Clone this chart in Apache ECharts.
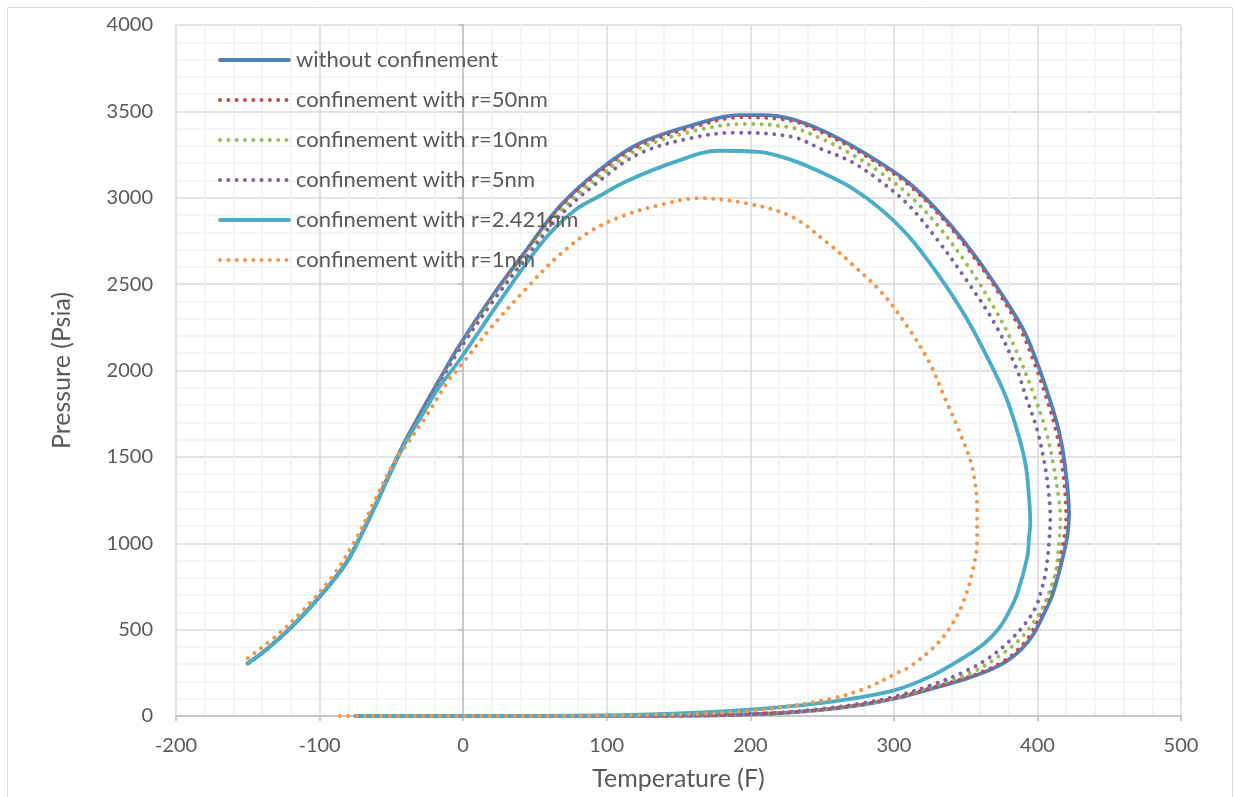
<!DOCTYPE html>
<html>
<head>
<meta charset="utf-8">
<script src="https://cdn.jsdelivr.net/npm/echarts@6/dist/echarts.min.js"></script>
<style>
  html, body { margin: 0; padding: 0; background: #fff; }
  #chart { width: 1235px; height: 797px; }
</style>
</head>
<body>
<div id="chart"></div>
<script>
// series names
const seriesNames = [
  'without confinement',
  'confinement with r=50nm',
  'confinement with r=10nm',
  'confinement with r=5nm',
  'confinement with r=2.421nm',
  'confinement with r=1nm'
];

// [Temperature (F), Pressure (Psia)], bubble branch then dew branch
const withoutConf = [
  [-150,305],[-140,365],[-130,435],[-120,512],[-110,597],[-100,690],[-90,790],[-80,905],[-70,1065],[-60,1240],
  [-50,1425],[-40,1598],[-28,1780],[-17,1940],[-3,2140],[20,2427],[44,2697],[67,2948],[95,3161],[123,3315],
  [160,3421],[192,3478],[210,3478],[229,3455],[250,3390],[270,3305],[290,3205],[310,3090],[330,2930],[350,2735],
  [370,2505],[390,2240],[400,2040],[408,1848],[415,1650],[419,1460],[422,1170],[421,1050],[418,930],[414,800],
  [410,691],[405,600],[397,470],[388,380],[378,315],[365,260],[350,215],[327,160],[304,107],[280,68],
  [246,33],[211,13],[164,3],[100,1],[0,0],[-75,0]
];
const conf50 = [
  [-150,305],[-140,365],[-130,435],[-120,512],[-110,597],[-100,690],[-90,790],[-80,905],[-70,1065],[-60,1240],
  [-50,1425],[-40,1596],[-28,1776],[-17,1934],[-3,2133],[20,2418],[44,2686],[67,2935],[95,3148],[123,3302],
  [160,3408],[194,3466],[229,3445],[250,3378],[270,3293],[290,3193],[310,3077],[330,2916],[350,2720],[370,2488],
  [388,2240],[398,2040],[406,1848],[413,1650],[417,1460],[420,1165],[419,1050],[416,930],[412,800],[408,691],
  [403,600],[395,470],[386,380],[376,315],[363,260],[348,215],[325,160],[302,107],[278,68],[245,33],
  [210,13],[164,3],[100,1],[0,0],[-75,0]
];
const conf10 = [
  [-150,305],[-140,365],[-130,435],[-120,512],[-110,597],[-100,690],[-90,790],[-80,905],[-70,1065],[-60,1240],
  [-50,1424],[-40,1594],[-28,1772],[-17,1928],[-3,2125],[20,2405],[44,2670],[67,2915],[95,3125],[123,3284],
  [160,3385],[195,3427],[229,3405],[250,3340],[270,3255],[290,3150],[310,3020],[330,2845],[350,2625],[370,2360],
  [385,2120],[398,1848],[406,1650],[411,1460],[415,1250],[416,1154],[415,1000],[413,845],[409,735],[404,633],
  [396,525],[386,430],[373,345],[355,255],[327,175],[304,113],[280,70],[246,35],[211,14],[164,3],
  [100,1],[0,0],[-75,0]
];
const conf5 = [
  [-150,305],[-140,365],[-130,435],[-120,512],[-110,597],[-100,690],[-90,790],[-80,905],[-70,1065],[-60,1240],
  [-50,1422],[-40,1591],[-28,1767],[-17,1922],[-3,2115],[20,2392],[44,2652],[67,2893],[95,3098],[123,3257],
  [160,3348],[189,3377],[229,3353],[250,3280],[270,3210],[290,3100],[310,2960],[330,2760],[350,2530],[370,2275],
  [385,2020],[392,1848],[400,1650],[405,1460],[408,1280],[409,1154],[408,1000],[406,845],[403,735],[399,633],
  [391,530],[380,430],[366,335],[350,260],[327,182],[304,120],[280,76],[246,38],[211,15],[164,4],
  [100,1],[0,0],[-75,0]
];
const conf2421 = [
  [-150,305],[-140,365],[-130,435],[-120,512],[-110,597],[-100,690],[-90,790],[-80,905],[-70,1063],[-60,1236],
  [-50,1418],[-40,1585],[-28,1750],[-17,1900],[-3,2055],[20,2335],[44,2620],[60,2790],[78,2929],[95,3010],
  [113,3093],[148,3209],[178,3272],[206,3265],[229,3218],[250,3145],[270,3060],[290,2940],[310,2780],[330,2565],
  [350,2311],[366,2061],[378,1848],[387,1620],[392,1443],[394,1280],[395,1125],[394,1020],[393,922],[386,710],
  [380,600],[373,505],[363,420],[350,345],[327,235],[300,148],[257,83],[211,44],[164,19],[118,6],
  [50,1],[-74,0]
];
const conf1 = [
  [-150,335],[-130,465],[-110,625],[-90,820],[-75,1020],[-62,1240],[-48,1470],[-40,1565],[-26,1733],[-10,1945],
  [-3,2015],[20,2254],[44,2475],[67,2669],[90,2813],[113,2900],[137,2958],[164,2997],[197,2968],[229,2890],
  [257,2717],[269,2630],[292,2447],[311,2235],[325,2042],[335,1850],[346,1640],[355,1424],[358,1173],[358,1019],
  [355,845],[348,652],[338,498],[327,392],[311,285],[304,256],[280,160],[257,102],[222,50],[199,29],
  [164,12],[130,6],[95,2],[0,0],[-86,0]
];

const seriesData = [withoutConf, conf50, conf10, conf5, conf2421, conf1];
const seriesColors = ['#4F81BD', '#C0504D', '#9BBB59', '#8064A2', '#4BACC6', '#F79646'];
const seriesDotted = [false, true, true, true, false, true];

const textColor = '#595959';
const fontFam = 'Lato, "Open Sans", sans-serif';

let chart = echarts.init(document.getElementById('chart'), null, { renderer: 'canvas' });

let series = seriesData.map((d, i) => ({
  name: seriesNames[i],
  type: 'line',
  data: d,
  symbol: 'none',
  smooth: 0.35,
  lineStyle: seriesDotted[i]
    ? { color: seriesColors[i], width: 4, type: [0.01, 8.3], cap: 'round' }
    : { color: seriesColors[i], width: 3.8, cap: 'round', join: 'round' },
  itemStyle: { color: seriesColors[i] },
  emphasis: { disabled: true }
}));

let option = {
  animation: false,
  backgroundColor: '#fff',
  graphic: [{
    type: 'rect',
    shape: { x: 7.5, y: 7.5, width: 1225, height: 800 },
    style: { fill: 'none', stroke: '#D9D9D9', lineWidth: 1 },
    silent: true
  }],
  grid: {
    left: 176,
    right: 54,
    top: 25,
    bottom: 81,
    containLabel: false,
    outerBoundsMode: 'none'
  },
  legend: {
    data: seriesNames,
    orient: 'vertical',
    left: 218,
    top: 49,
    padding: 0,
    itemWidth: 69,
    itemHeight: 14,
    itemGap: 18,
    itemStyle: { opacity: 0 },
    lineStyle: { width: 'inherit', type: 'inherit', cap: 'inherit' },
    textStyle: { color: textColor, fontSize: 22, fontFamily: fontFam, lineHeight: 22, padding: [0, 0, 0, 2] }
  },
  xAxis: {
    type: 'value',
    min: -200,
    max: 500,
    interval: 100,
    name: 'Temperature (F)',
    nameLocation: 'middle',
    nameGap: 50,
    nameTextStyle: { color: textColor, fontSize: 25, fontFamily: fontFam },
    axisLine: { show: true, onZero: false, lineStyle: { color: '#BFBFBF', width: 1.5 } },
    axisTick: { show: true, length: 5, inside: false, lineStyle: { color: '#BFBFBF', width: 1.5 } },
    axisLabel: { color: textColor, fontSize: 20, fontFamily: fontFam, margin: 20, showMinLabel: true, showMaxLabel: true },
    splitLine: { show: true, lineStyle: { color: '#D9D9D9', width: 1.5 } },
    minorTick: { show: false, splitNumber: 5 },
    minorSplitLine: { show: true, lineStyle: { color: '#F2F2F2', width: 1.5 } }
  },
  yAxis: [{
    type: 'value',
    min: 0,
    max: 4000,
    interval: 500,
    name: 'Pressure (Psia)',
    nameLocation: 'middle',
    nameGap: 102,
    nameTextStyle: { color: textColor, fontSize: 25, fontFamily: fontFam },
    axisLine: { show: false, onZero: false },
    axisTick: { show: false },
    axisLabel: {
      color: textColor, fontSize: 20, fontFamily: fontFam, margin: 23,
      showMinLabel: true, showMaxLabel: true,
      formatter: v => String(v)
    },
    splitLine: { show: true, lineStyle: { color: '#D9D9D9', width: 1.5 } },
    minorTick: { show: false, splitNumber: 5 },
    minorSplitLine: { show: true, lineStyle: { color: '#F2F2F2', width: 1.5 } }
  }, {
    // vertical axis line that crosses at T = 0
    type: 'value',
    min: 0,
    max: 4000,
    interval: 500,
    position: 'left',
    axisLine: { show: true, onZero: true, onZeroAxisIndex: 0, lineStyle: { color: '#BFBFBF', width: 1.5 } },
    axisTick: { show: true, length: 5, lineStyle: { color: '#BFBFBF', width: 1.5 } },
    axisLabel: { show: false },
    splitLine: { show: false }
  }],
  series: series
};

chart.setOption(option);
</script>
</body>
</html>
